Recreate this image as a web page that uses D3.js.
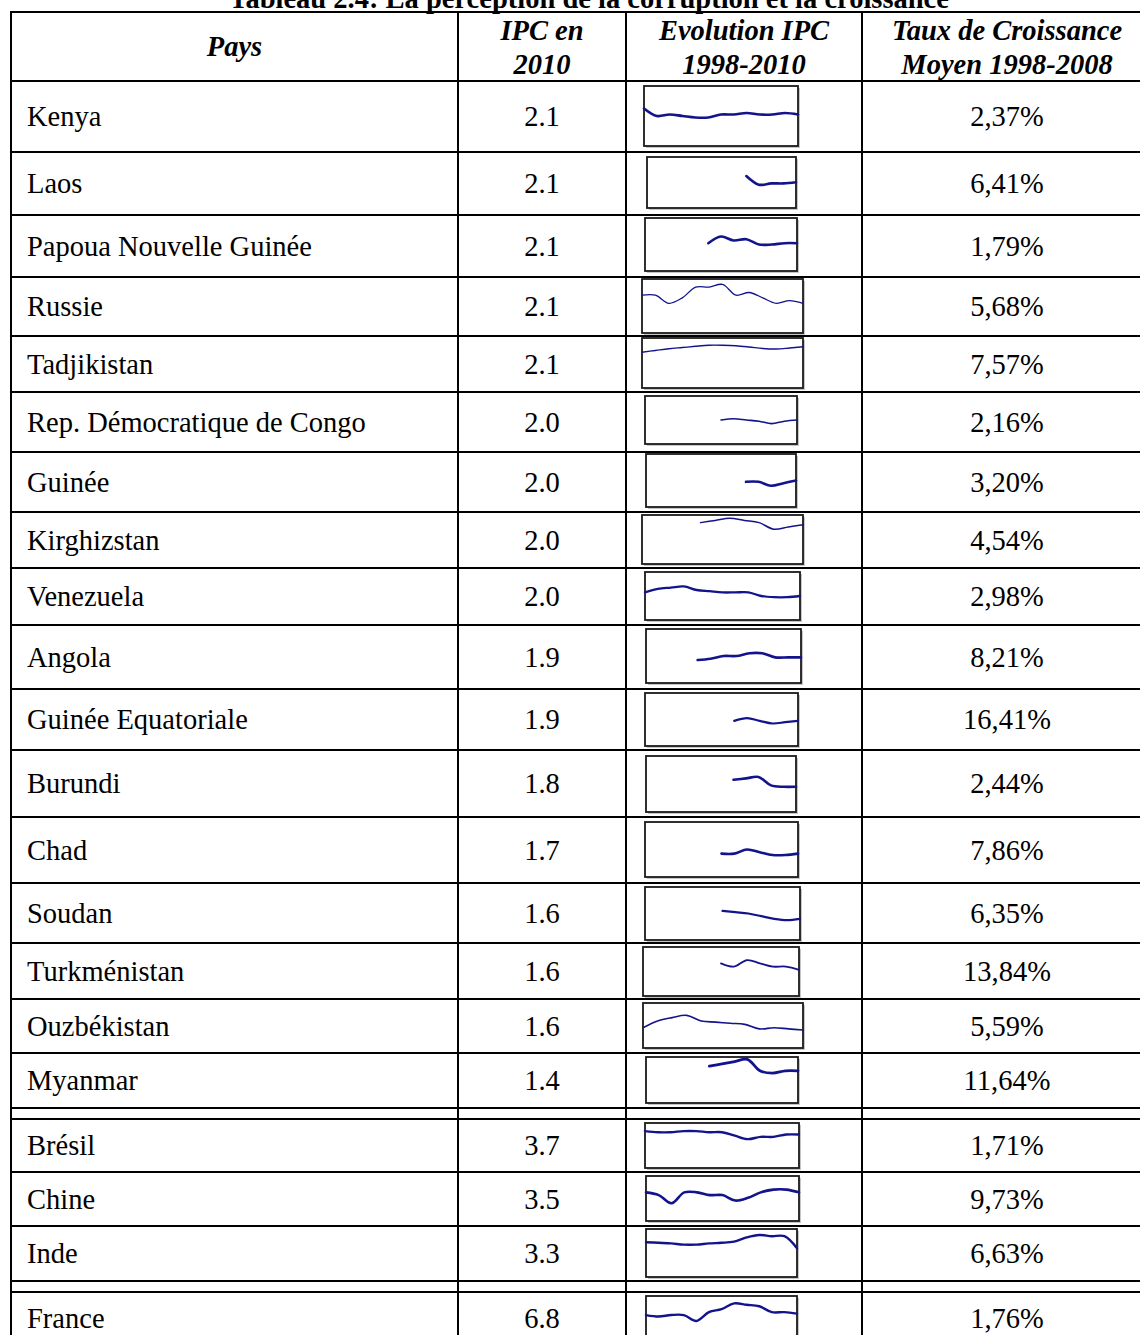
<!DOCTYPE html>
<html>
<head>
<meta charset="utf-8">
<script src="https://cdn.jsdelivr.net/npm/d3@7"></script>
<style>
body { margin: 0; background: #fff; }
svg { display: block; }
text { font-family: 'Liberation Serif', 'Times New Roman', serif; fill: #000; }
</style>
</head>
<body>
<svg id="canvas" width="1140" height="1335"></svg>
<script>
let title = 'Tableau 2.4: La perception de la corruption et la croissance'

let countries = ['Kenya', 'Laos', 'Papoua Nouvelle Guinée', 'Russie', 'Tadjikistan',
    'Rep. Démocratique de Congo', 'Guinée', 'Kirghizstan', 'Venezuela', 'Angola',
    'Guinée Equatoriale', 'Burundi', 'Chad', 'Soudan', 'Turkménistan', 'Ouzbékistan',
    'Myanmar', 'Brésil', 'Chine', 'Inde', 'France']

let ipc2010 = [2.1, 2.1, 2.1, 2.1, 2.1, 2.0, 2.0, 2.0, 2.0, 1.9, 1.9, 1.8, 1.7, 1.6, 1.6, 1.6, 1.4, 3.7, 3.5, 3.3, 6.8]

let growth = [2.37, 6.41, 1.79, 5.68, 7.57, 2.16, 3.20, 4.54, 2.98, 8.21, 16.41, 2.44, 7.86, 6.35, 13.84, 5.59, 11.64, 1.71, 9.73, 6.63, 1.76]

let years = d3.range(1998, 2011)

// IPC 1998..2010, null = no score that year
let ipcSeries = [
    [2.5, 2.0, 2.1, 2.0, 1.9, 1.9, 2.1, 2.1, 2.2, 2.1, 2.1, 2.2, 2.1],
    [null, null, null, null, null, null, null, null, 2.6, 1.9, 2.0, 2.0, 2.1],
    [null, null, null, null, null, 2.1, 2.6, 2.3, 2.4, 2.0, 2.0, 2.1, 2.1],
    [2.4, 2.4, 2.1, 2.3, 2.7, 2.7, 2.8, 2.4, 2.5, 2.3, 2.1, 2.2, 2.1],
    [1.66, 1.8, 1.94, 2.04, 2.14, 2.22, 2.22, 2.18, 2.08, 1.96, 1.92, 2.0, 2.1],
    [null, null, null, null, null, null, 2.0, 2.1, 2.0, 1.9, 1.7, 1.9, 2.0],
    [null, null, null, null, null, null, null, null, 1.9, 1.9, 1.6, 1.8, 2.0],
    [null, null, null, null, null, 2.1, 2.2, 2.3, 2.2, 2.1, 1.8, 1.9, 2.0],
    [2.3, 2.6, 2.7, 2.8, 2.5, 2.4, 2.3, 2.3, 2.3, 2.0, 1.9, 1.9, 2.0],
    [null, null, null, null, 1.7, 1.8, 2.0, 2.0, 2.2, 2.2, 1.9, 1.9, 1.9],
    [null, null, null, null, null, null, null, 1.9, 2.1, 1.9, 1.7, 1.8, 1.9],
    [null, null, null, null, null, null, null, 2.3, 2.4, 2.5, 1.9, 1.8, 1.8],
    [null, null, null, null, null, null, 1.7, 1.7, 2.0, 1.8, 1.6, 1.6, 1.7],
    [null, null, null, null, null, null, 2.2, 2.1, 2.0, 1.8, 1.6, 1.5, 1.6],
    [null, null, null, null, null, null, 2.0, 1.8, 2.2, 2.0, 1.8, 1.8, 1.6],
    [null, 1.8, 2.4, 2.7, 2.9, 2.4, 2.3, 2.2, 2.1, 1.7, 1.8, 1.7, 1.6],
    [null, null, null, null, null, 1.6, 1.7, 1.8, 1.9, 1.4, 1.3, 1.4, 1.4],
    [4.0, 3.9, 3.9, 4.0, 4.0, 3.9, 3.9, 3.6, 3.3, 3.5, 3.5, 3.7, 3.7],
    [3.5, 3.4, 3.1, 3.5, 3.5, 3.4, 3.4, 3.2, 3.3, 3.5, 3.6, 3.6, 3.5],
    [2.9, 2.85, 2.8, 2.7, 2.7, 2.8, 2.85, 2.95, 3.3, 3.5, 3.4, 3.4, 2.4],
    [6.7, 6.6, 6.7, 6.7, 6.3, 6.9, 7.1, 7.5, 7.4, 7.3, 6.9, 6.9, 6.8]
]

// first year on each little chart's axis
let axisStart = [1998, 1998, 1998, 1998, 1998, 1998, 1998, 1999, 1998, 1998, 1998,
    1998, 1998, 1998, 1998, 1999, 1998, 1998, 1998, 1998, 1998]

let yDomains = [[0, 4], [0, 4.15], [0, 4], [1, 3], [-1.2, 2.8], [0, 4], [0, 4], [0.2, 2.45],
    [0, 4], [0, 4], [0, 4], [0, 4], [0, 4], [0, 4], [0, 3], [0, 4], [0, 2], [0.8, 4.7],
    [2.45, 4.1], [0, 4], [5, 8]]

// layout
let colX = [11, 458, 626, 862, 1152]
let headTop = 12
let headBottom = 81
let rowHeights = [71, 63, 62, 59, 56, 60, 60, 56, 57, 64, 61, 67, 66, 60, 56, 54, 55, 53, 54, 55, 52]
let doubleAfter = [16, 19]
let gap = 11

let boxes = [
    [644, 86, 798, 146], [647, 157, 796, 208], [645, 218, 797, 271], [642, 279, 803, 333],
    [642, 338, 803, 388], [645, 396, 797, 444], [646, 454, 796, 507], [642, 515, 803, 564],
    [645, 572, 800, 620], [646, 629, 801, 683], [645, 693, 798, 746], [646, 756, 796, 812],
    [645, 822, 798, 877], [645, 887, 800, 940], [643, 947, 799, 996], [643, 1003, 803, 1048],
    [646, 1057, 798, 1103], [645, 1123, 799, 1168], [646, 1176, 799, 1221], [646, 1229, 797, 1277],
    [646, 1296, 797, 1340]
]
let lineWidths = [2.6, 2.6, 2.6, 1.3, 1.3, 1.6, 2.6, 1.5, 2.3, 2.6, 2.2, 2.6, 2.6, 2.2, 1.8, 1.6, 2.8, 2.4, 2.6, 2.4, 2.4]

let fontSize = 28.5
let navy = '#13138c'

let canvas = d3.select('#canvas')

let rowTops = []
let hLines = [headTop, headBottom]
let yy = headBottom
rowHeights.forEach((h, i) => {
    rowTops.push(yy)
    yy += h
    hLines.push(yy)
    if (doubleAfter.includes(i)) {
        yy += gap
        hLines.push(yy)
    }
})
let tableBottom = yy

let colMid = (c) => (colX[c] + colX[c + 1]) / 2

// title (cut by the top edge)
canvas.append('text')
    .attr('x', 589)
    .attr('y', 8)
    .attr('text-anchor', 'middle')
    .style('font-size', fontSize + 'px')
    .style('font-weight', 'bold')
    .text(title)

// grid
canvas.selectAll('line.h')
    .data(hLines)
    .enter()
        .append('line')
        .attr('class', 'h')
        .attr('x1', colX[0] - 1)
        .attr('x2', colX[4] + 1)
        .attr('y1', d => d)
        .attr('y2', d => d)
        .attr('stroke', '#000')
        .attr('stroke-width', 2)

canvas.selectAll('line.v')
    .data(colX)
    .enter()
        .append('line')
        .attr('class', 'v')
        .attr('x1', d => d)
        .attr('x2', d => d)
        .attr('y1', headTop - 1)
        .attr('y2', tableBottom + 1)
        .attr('stroke', '#000')
        .attr('stroke-width', 2)

// header
let header = [
    {col: 0, lines: ['Pays']},
    {col: 1, lines: ['IPC en', '2010']},
    {col: 2, lines: ['Evolution IPC', '1998-2010']},
    {col: 3, lines: ['Taux de Croissance', 'Moyen 1998-2008']}
]
header.forEach(h => {
    let t = canvas.append('text')
        .attr('text-anchor', 'middle')
        .style('font-size', fontSize + 'px')
        .style('font-weight', 'bold')
        .style('font-style', 'italic')
    if (h.lines.length === 1) {
        t.attr('x', colMid(h.col)).attr('y', 56).text(h.lines[0])
    } else {
        h.lines.forEach((l, k) => {
            t.append('tspan')
                .attr('x', colMid(h.col))
                .attr('y', k === 0 ? 40 : 74)
                .text(l)
        })
    }
})

// body text
let rows = canvas.selectAll('g.row')
    .data(countries)
    .enter()
        .append('g')
        .attr('class', 'row')
        .attr('transform', (d, i) => 'translate(0,' + (rowTops[i] + rowHeights[i] / 2) + ')')

rows.append('text')
    .attr('x', 27)
    .attr('dy', '0.34em')
    .style('font-size', fontSize + 'px')
    .text(d => d)

rows.append('text')
    .attr('x', colMid(1))
    .attr('dy', '0.34em')
    .attr('text-anchor', 'middle')
    .style('font-size', fontSize + 'px')
    .text((d, i) => ipc2010[i].toFixed(1))

rows.append('text')
    .attr('x', colMid(3))
    .attr('dy', '0.34em')
    .attr('text-anchor', 'middle')
    .style('font-size', fontSize + 'px')
    .text((d, i) => growth[i].toFixed(2).replace('.', ',') + '%')

// little IPC charts
countries.forEach((c, i) => {
    let [x0, y0, x1, y1] = boxes[i]
    let g = canvas.append('g').attr('class', 'spark')

    g.append('rect')
        .attr('x', x0 + 2).attr('y', y0 + 2)
        .attr('width', x1 - x0).attr('height', y1 - y0)
        .attr('fill', '#c6c6c6')
    g.append('rect')
        .attr('x', x0).attr('y', y0)
        .attr('width', x1 - x0).attr('height', y1 - y0)
        .attr('fill', '#fff')
        .attr('stroke', '#1a1a1a')
        .attr('stroke-width', 1.8)

    let x = d3.scaleLinear().domain([axisStart[i], 2010]).range([x0, x1])
    let y = d3.scaleLinear().domain(yDomains[i]).range([y1, y0])

    let pts = years.map((yr, j) => ({yr: yr, v: ipcSeries[i][j]}))
        .filter(d => d.yr >= axisStart[i])

    let line = d3.line()
        .defined(d => d.v !== null)
        .x(d => x(d.yr))
        .y(d => y(d.v))
        .curve(d3.curveCatmullRom)

    g.append('path')
        .datum(pts)
        .attr('d', line)
        .attr('fill', 'none')
        .attr('stroke', navy)
        .attr('stroke-width', lineWidths[i])
        .attr('stroke-linejoin', 'round')
        .attr('stroke-linecap', 'round')
})
</script>
</body>
</html>
